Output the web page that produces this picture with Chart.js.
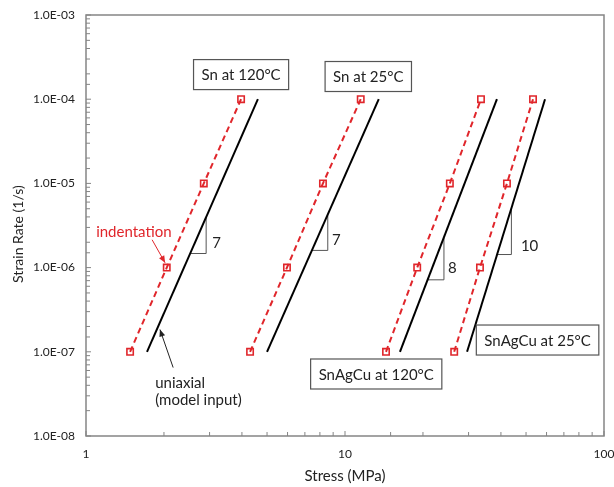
<!DOCTYPE html>
<html>
<head>
<meta charset="utf-8">
<script src="https://cdn.jsdelivr.net/npm/chart.js@4.4.1/dist/chart.umd.min.js"></script>
<style>
  html, body { margin: 0; padding: 0; background: #fff; }
  #wrap { width: 614px; height: 487px; }
</style>
</head>
<body>
<div id="wrap"><canvas id="chart"></canvas></div>
<script>
// strain rates at which indentation points were taken
const strainRates = [1e-7, 1e-6, 1e-5, 1e-4];
// indentation stress (MPa) for each material/temperature
const indentSn120 = [1.48, 2.05, 2.85, 3.97];
const indentSn25 = [4.30, 5.97, 8.22, 11.5];
const indentSAC120 = [14.4, 19.0, 25.4, 33.5];
const indentSAC25 = [26.4, 33.2, 42.2, 53.2];

// uniaxial (model input) lines, end points
const uniaxialRates = [1e-7, 1e-4];
const uniaxSn120 = [1.72, 4.61];
const uniaxSn25 = [5.0, 13.5];
const uniaxSAC120 = [16.3, 38.6];
const uniaxSAC25 = [29.6, 59.2];

// slope triangles: stress x1, x2 and rate y1, y2
const slopeLabels = ['7', '7', '8', '10'];
const slopeStressLo = [2.52, 7.43, 20.8, 38.6];
const slopeStressHi = [2.91, 8.58, 24.1, 43.9];
const slopeRateLo = [1.47e-6, 1.6e-6, 7.16e-7, 1.43e-6];
const slopeRateHi = [3.9e-6, 4.16e-6, 2.29e-6, 5.08e-6];

const materialLabels = ['Sn at 120°C', 'Sn at 25°C', 'SnAgCu at 120°C', 'SnAgCu at 25°C'];

const RED = '#e0262b';
const FONT = 'Lato, "Open Sans", sans-serif';

function pts(xs, ys) {
    return xs.map((x, i) => ({x: x, y: ys[i]}));
}

function indentSet(xs) {
    return {
        data: pts(xs, strainRates),
        showLine: true,
        borderColor: RED,
        borderWidth: 2,
        borderDash: [6, 4],
        pointStyle: 'rect',
        pointRadius: 4.5,
        pointBorderWidth: 1.6,
        pointBorderColor: RED,
        pointBackgroundColor: 'rgba(0,0,0,0)'
    };
}

function uniaxSet(xs) {
    return {
        data: pts(xs, uniaxialRates),
        showLine: true,
        borderColor: '#000',
        borderWidth: 2,
        pointRadius: 0
    };
}

function slopeSet(i) {
    return {
        data: [
            {x: slopeStressLo[i], y: slopeRateLo[i]},
            {x: slopeStressHi[i], y: slopeRateLo[i]},
            {x: slopeStressHi[i], y: slopeRateHi[i]}
        ],
        showLine: true,
        borderColor: '#555',
        borderWidth: 1,
        pointRadius: 0
    };
}

// annotation anchors in data units
const boxes = [
    {text: materialLabels[0], x: 3.97, y: 1.96e-4},
    {text: materialLabels[1], x: 12.3, y: 1.86e-4},
    {text: materialLabels[2], x: 13.2, y: 5.45e-8},
    {text: materialLabels[3], x: 55.4, y: 1.38e-7}
];
const slopeTextPos = [
    {x: 3.18, y: 1.93e-6},
    {x: 9.23, y: 2.09e-6},
    {x: 25.9, y: 9.75e-7},
    {x: 49.5, y: 1.78e-6}
];

const annotate = {
    id: 'annotate',
    afterDraw(chart) {
        const ctx = chart.ctx;
        const xs = chart.scales.x, ys = chart.scales.y;
        const a = chart.chartArea;
        const X = v => xs.getPixelForValue(v);
        const Y = v => ys.getPixelForValue(v);
        ctx.save();

        // frame
        ctx.strokeStyle = '#858585';
        ctx.lineWidth = 1.5;
        ctx.strokeRect(a.left, a.top, a.right - a.left, a.bottom - a.top);

        // inside ticks
        ctx.lineWidth = 1;
        xs.ticks.forEach(t => {
            const px = X(t.value);
            ctx.beginPath();
            ctx.moveTo(px, a.bottom);
            ctx.lineTo(px, a.bottom - (isDecade(t.value) ? 5 : 4));
            ctx.stroke();
        });
        ys.ticks.forEach(t => {
            const py = Y(t.value);
            ctx.beginPath();
            ctx.moveTo(a.left, py);
            ctx.lineTo(a.left + (isDecade(t.value) ? 5 : 4), py);
            ctx.stroke();
        });

        // y axis title (sits a bit above the plot centre, as in the source)
        ctx.save();
        ctx.translate(18, Y(2.5e-6));
        ctx.rotate(-Math.PI / 2);
        ctx.font = '14px ' + FONT;
        ctx.fillStyle = '#222';
        ctx.textAlign = 'center';
        ctx.textBaseline = 'middle';
        ctx.fillText('Strain Rate (1/s)', 0, 0);
        ctx.restore();

        // slope numbers
        ctx.fillStyle = '#222';
        ctx.font = '15px ' + FONT;
        ctx.textAlign = 'left';
        ctx.textBaseline = 'middle';
        slopeLabels.forEach((s, i) => {
            ctx.fillText(s, X(slopeTextPos[i].x) - 4, Y(slopeTextPos[i].y));
        });

        // material boxes
        ctx.font = '15px ' + FONT;
        ctx.textAlign = 'center';
        boxes.forEach(b => {
            const cx = X(b.x), cy = Y(b.y);
            const w = ctx.measureText(b.text).width + 16;
            const h = 30;
            ctx.fillStyle = '#fff';
            ctx.fillRect(cx - w / 2, cy - h / 2, w, h);
            ctx.strokeStyle = '#555';
            ctx.lineWidth = 1.2;
            ctx.strokeRect(cx - w / 2, cy - h / 2, w, h);
            ctx.fillStyle = '#222';
            ctx.fillText(b.text, cx, cy + 1);
        });

        // callouts
        function arrow(x1, y1, x2, y2, color) {
            const p1 = [X(x1), Y(y1)], p2 = [X(x2), Y(y2)];
            ctx.strokeStyle = color;
            ctx.fillStyle = color;
            ctx.lineWidth = 1;
            ctx.beginPath();
            ctx.moveTo(p1[0], p1[1]);
            ctx.lineTo(p2[0], p2[1]);
            ctx.stroke();
            const ang = Math.atan2(p2[1] - p1[1], p2[0] - p1[0]);
            const L = 7, W = 3;
            ctx.beginPath();
            ctx.moveTo(p2[0], p2[1]);
            ctx.lineTo(p2[0] - L * Math.cos(ang) + W * Math.sin(ang), p2[1] - L * Math.sin(ang) - W * Math.cos(ang));
            ctx.lineTo(p2[0] - L * Math.cos(ang) - W * Math.sin(ang), p2[1] - L * Math.sin(ang) + W * Math.cos(ang));
            ctx.closePath();
            ctx.fill();
        }
        ctx.font = '15px ' + FONT;
        ctx.textAlign = 'center';
        ctx.fillStyle = RED;
        ctx.fillText('indentation', X(1.53), Y(2.61e-6));
        arrow(1.80, 2.14e-6, 2.02, 1.14e-6, RED);

        ctx.fillStyle = '#222';
        ctx.textAlign = 'left';
        ctx.fillText('uniaxial', X(1.85), Y(4.3e-8));
        ctx.fillText('(model input)', X(1.85), Y(2.63e-8));
        arrow(2.17, 6.5e-8, 1.93, 1.84e-7, '#222');

        ctx.restore();
    }
};

function isDecade(v) {
    const l = Math.log10(v);
    return Math.abs(l - Math.round(l)) < 1e-9;
}

new Chart(document.getElementById('chart'), {
    type: 'scatter',
    data: {
        datasets: [
            indentSet(indentSn120), indentSet(indentSn25), indentSet(indentSAC120), indentSet(indentSAC25),
            uniaxSet(uniaxSn120), uniaxSet(uniaxSn25), uniaxSet(uniaxSAC120), uniaxSet(uniaxSAC25),
            slopeSet(0), slopeSet(1), slopeSet(2), slopeSet(3)
        ]
    },
    options: {
        responsive: true,
        maintainAspectRatio: false,
        animation: false,
        layout: { padding: { top: 15, right: 10, left: 0, bottom: 0 } },
        plugins: { legend: { display: false }, tooltip: { enabled: false } },
        scales: {
            x: {
                type: 'logarithmic',
                min: 1,
                max: 100,
                grid: { display: false, drawTicks: false },
                border: { display: false },
                ticks: {
                    autoSkip: false,
                    maxRotation: 0,
                    padding: 11,
                    color: '#222',
                    font: { family: FONT, size: 12 },
                    callback: v => isDecade(v) ? String(Math.round(v)) : ''
                },
                title: {
                    display: true,
                    text: 'Stress (MPa)',
                    color: '#222',
                    font: { family: FONT, size: 15 },
                    padding: { top: 2, bottom: 2 }
                },
                afterFit: s => { s.height = 51; s.paddingLeft = 0; s.paddingRight = 0; }
            },
            y: {
                type: 'logarithmic',
                min: 1e-8,
                max: 1e-3,
                grid: { display: false, drawTicks: false },
                border: { display: false },
                ticks: {
                    autoSkip: false,
                    padding: 11,
                    color: '#222',
                    font: { family: FONT, size: 12 },
                    callback: v => {
                        if (!isDecade(v)) return '';
                        const e = Math.round(-Math.log10(v));
                        return '1.0E-' + String(e).padStart(2, '0');
                    }
                },
                afterFit: s => { s.width = 86; s.paddingTop = 0; s.paddingBottom = 0; }
            }
        }
    },
    plugins: [annotate]
});
</script>
</body>
</html>
